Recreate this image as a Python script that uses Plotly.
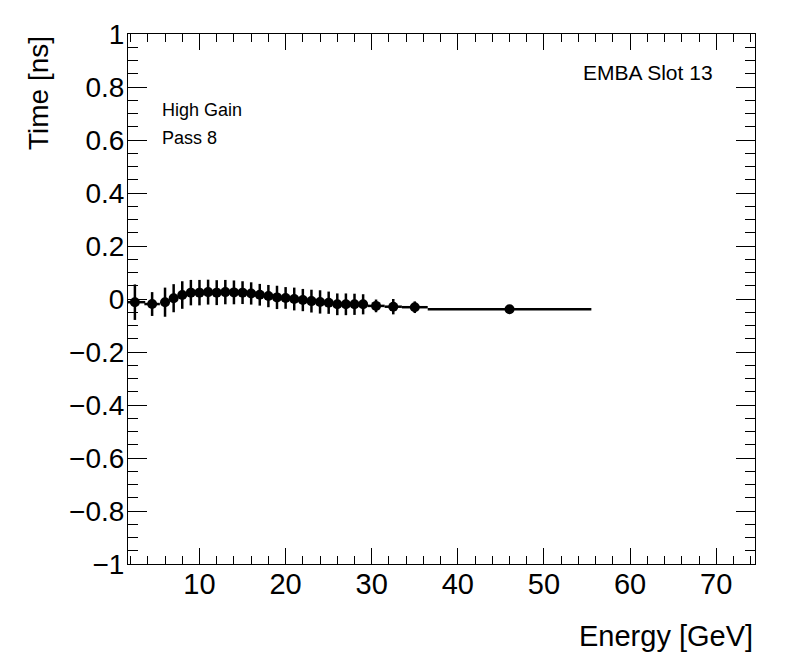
import plotly.graph_objects as go

# bin centres / half widths (GeV) and mean time offset (ns)
energy = [2.5, 4.5, 6, 7, 8, 9, 10, 11, 12, 13, 14, 15, 16, 17, 18, 19, 20,
          21, 22, 23, 24, 25, 26, 27, 28, 29, 30.5, 32.5, 35, 46]
half_width = [1.2, 0.9, 0.5, 0.5, 0.5, 0.5, 0.5, 0.5, 0.5, 0.5, 0.5, 0.5, 0.5,
              0.5, 0.5, 0.5, 0.5, 0.5, 0.5, 0.5, 0.5, 0.5, 0.5, 0.5, 0.5, 0.5,
              1.0, 1.0, 1.5, 9.5]
time_ns = [-0.012, -0.019, -0.012, 0.003, 0.015, 0.024, 0.024, 0.026, 0.024,
           0.026, 0.025, 0.024, 0.021, 0.016, 0.011, 0.006, 0.004, 0.000,
           -0.004, -0.008, -0.011, -0.014, -0.020, -0.020, -0.020, -0.020,
           -0.026, -0.029, -0.031, -0.039]
time_err = [0.067, 0.045, 0.055, 0.053, 0.052, 0.048, 0.048, 0.047, 0.047,
            0.046, 0.045, 0.043, 0.042, 0.041, 0.042, 0.044, 0.041, 0.043,
            0.042, 0.043, 0.044, 0.042, 0.041, 0.041, 0.040, 0.038, 0.024,
            0.029, 0.022, 0.008]

FONT = "Liberation Sans, Arial, sans-serif"

fig = go.Figure()
fig.add_trace(go.Scatter(
    x=energy, y=time_ns, mode="markers",
    marker=dict(color="black", size=10, symbol="circle"),
    error_y=dict(type="data", array=time_err, color="black", thickness=2.5, width=0),
    error_x=dict(type="data", array=half_width, color="black", thickness=2.5, width=0),
    showlegend=False,
))

# page body has an 8px margin, so the frame is placed 8px up/left of the target
fig.update_layout(
    width=796, height=672,
    margin=dict(l=120, r=49, t=26, b=116),
    paper_bgcolor="white", plot_bgcolor="white",
    font=dict(family=FONT, color="black"),
)
fig.update_xaxes(
    range=[1.7, 74.5], tick0=0, dtick=10, ticks="inside", ticklen=16,
    tickwidth=1, tickcolor="black", mirror="ticks", showline=True,
    linecolor="black", linewidth=1, showgrid=False, zeroline=False,
    tickfont=dict(size=29, family=FONT), ticklabelstandoff=-6,
    minor=dict(dtick=2, tick0=0, ticks="inside", ticklen=8, tickcolor="black", showgrid=False),
)
fig.update_yaxes(
    range=[-1, 1], tick0=0, dtick=0.2, ticks="inside", ticklen=19,
    tickwidth=1, tickcolor="black", mirror="ticks", showline=True,
    linecolor="black", linewidth=1, showgrid=False, zeroline=False,
    tickfont=dict(size=28, family=FONT), ticklabelstandoff=-3,
    minor=dict(dtick=0.05, tick0=0, ticks="inside", ticklen=10, tickcolor="black", showgrid=False),
)

# axis titles (ROOT style: aligned to the far end of each axis)
fig.add_annotation(text="Energy [GeV]", xref="paper", yref="paper", x=1.0, y=-0.136,
                   xanchor="right", yanchor="middle", showarrow=False,
                   font=dict(size=29, family=FONT))
fig.add_annotation(text="Time [ns]", xref="paper", yref="paper", x=-0.1435, y=1.0,
                   xanchor="center", yanchor="top", textangle=-90, showarrow=False,
                   font=dict(size=28, family=FONT))

# labels inside the frame
fig.add_annotation(text="EMBA Slot 13", xref="paper", yref="paper", x=0.937, y=0.927,
                   xanchor="right", yanchor="middle", showarrow=False,
                   font=dict(size=21, family=FONT))
fig.add_annotation(text="High Gain", xref="paper", yref="paper", x=0.051, y=0.857,
                   xanchor="left", yanchor="middle", showarrow=False,
                   font=dict(size=18, family=FONT))
fig.add_annotation(text="Pass 8", xref="paper", yref="paper", x=0.051, y=0.804,
                   xanchor="left", yanchor="middle", showarrow=False,
                   font=dict(size=18, family=FONT))

fig.write_html("out.html")
